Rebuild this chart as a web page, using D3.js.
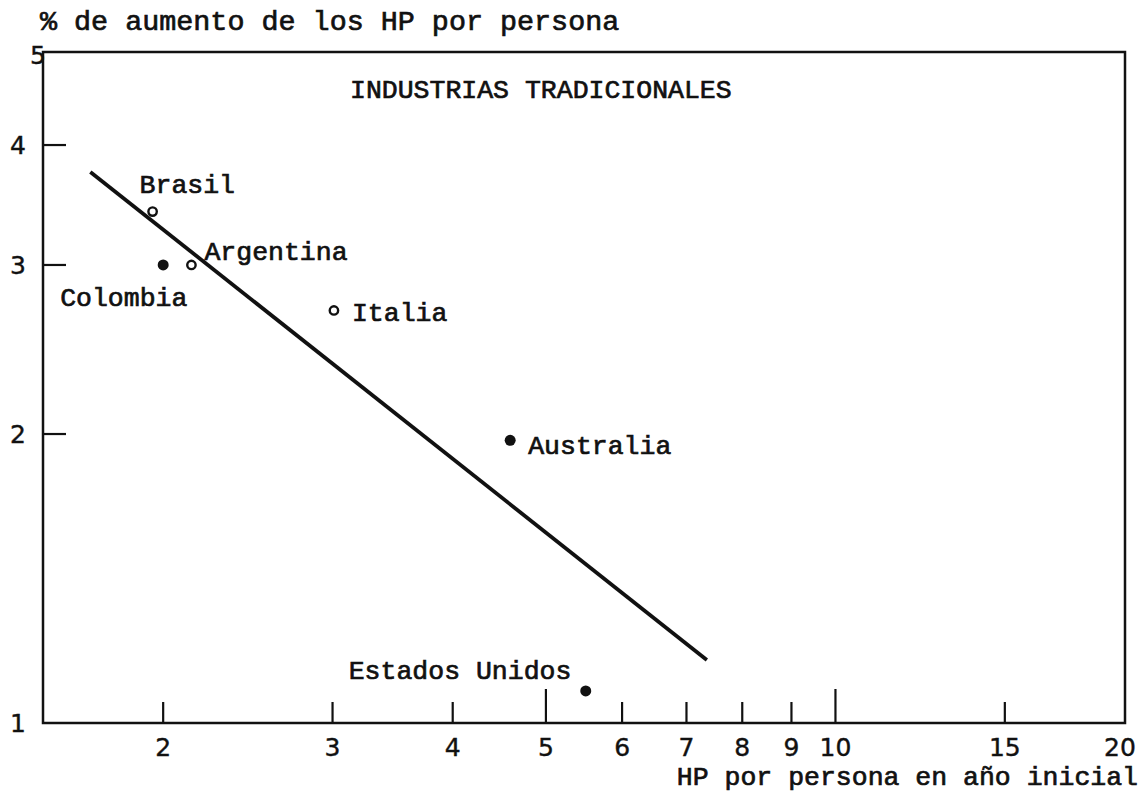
<!DOCTYPE html>
<html><head><meta charset="utf-8">
<script src="https://cdn.jsdelivr.net/npm/d3@7"></script>
<style>
body{margin:0;background:#fff;}
svg{display:block;}
.mono{font-family:"Liberation Mono","DejaVu Sans Mono",monospace;fill:#111;stroke:#111;stroke-width:0.7px;}
.num{font-family:"DejaVu Sans",sans-serif;fill:#111;stroke:#111;stroke-width:0.4px;}
</style></head>
<body>
<script>
// Data
const countries = ["Brasil","Colombia","Argentina","Italia","Australia","Estados Unidos"];
const hpInitial = [1.95, 2.0, 2.14, 3.01, 4.59, 5.5];
const hpGrowth = [3.41, 3.0, 3.0, 2.69, 1.97, 1.08];
const markerFilled = [false, true, false, false, true, true];
const trendX = [1.68, 7.35];
const trendY = [3.75, 1.163];
const xTicks = [2,3,4,5,6,7,8,9,10,15,20];
const xLongTicks = [5,10];
const yTicks = [1,2,3,4,5];
const title = "INDUSTRIAS TRADICIONALES";
const yTitle = "% de aumento de los HP por persona";
const xTitle = "HP por persona en año inicial";

const W=1143,H=800;
const svg=d3.select("body").append("svg").attr("width",W).attr("height",H);
const x=d3.scaleLog().domain([1.5,20]).range([43,1125]);
const y=d3.scaleLog().domain([1,5]).range([723,52]);

// frame
svg.append("rect").attr("x",x.range()[0]).attr("y",y.range()[1])
  .attr("width",x.range()[1]-x.range()[0]).attr("height",y.range()[0]-y.range()[1])
  .attr("fill","none").attr("stroke","#111").attr("stroke-width",2.5);

// x axis ticks
const gx=svg.append("g").attr("transform",`translate(0,${y.range()[0]})`);
gx.selectAll("line").data(xTicks.filter(d=>d<20)).join("line")
  .attr("x1",d=>x(d)).attr("x2",d=>x(d)).attr("y1",0)
  .attr("y2",d=>xLongTicks.includes(d)?-34:-21)
  .attr("stroke","#111").attr("stroke-width",2.2);
gx.selectAll("text").data(xTicks).join("text").attr("class","num")
  .attr("x",d=>d===20?x(d)-5:x(d)).attr("y",33).attr("text-anchor","middle")
  .attr("font-size",25).text(d=>d);

// y axis ticks
const gy=svg.append("g").attr("transform",`translate(${x.range()[0]},0)`);
gy.selectAll("line").data(yTicks.filter(d=>d>1&&d<5)).join("line")
  .attr("x1",0).attr("x2",23).attr("y1",d=>y(d)).attr("y2",d=>y(d))
  .attr("stroke","#111").attr("stroke-width",2.2);
gy.selectAll("text").data(yTicks).join("text").attr("class","num")
  .attr("x",d=>d===5?3:-17).attr("y",d=>d===5?y(d)+12:y(d)+9).attr("text-anchor","end")
  .attr("font-size",25).text(d=>d);

// titles
svg.append("text").attr("class","mono").attr("x",40).attr("y",30).attr("font-size",28.4).text(yTitle);
svg.append("text").attr("class","mono").attr("x",1138).attr("y",785).attr("text-anchor","end").attr("font-size",26.5).text(xTitle);
svg.append("text").attr("class","mono").attr("x",350).attr("y",98).attr("font-size",26.5).text(title);

// trend line
svg.append("line").attr("x1",x(trendX[0])).attr("y1",y(trendY[0]))
  .attr("x2",x(trendX[1])).attr("y2",y(trendY[1]))
  .attr("stroke","#111").attr("stroke-width",3.8);

// points
const pts=countries.map((c,i)=>({c,x:hpInitial[i],y:hpGrowth[i],f:markerFilled[i]}));
svg.selectAll("circle.p").data(pts).join("circle").attr("class","p")
  .attr("cx",d=>x(d.x)).attr("cy",d=>y(d.y))
  .attr("r",d=>d.f?5.5:4.2)
  .attr("fill",d=>d.f?"#111":"#fff").attr("stroke","#111").attr("stroke-width",d=>d.f?0:2.4);

// labels (offsets relative to points)
const off={"Brasil":[-13,-19],"Colombia":[-103,41],"Argentina":[13,-5],"Italia":[18,11],"Australia":[18,14],"Estados Unidos":[-237,-12]};
svg.selectAll("text.lab").data(pts).join("text").attr("class","mono lab")
  .attr("x",d=>x(d.x)+off[d.c][0]).attr("y",d=>y(d.y)+off[d.c][1])
  .attr("font-size",26.5).text(d=>d.c);
</script>
</body></html>
